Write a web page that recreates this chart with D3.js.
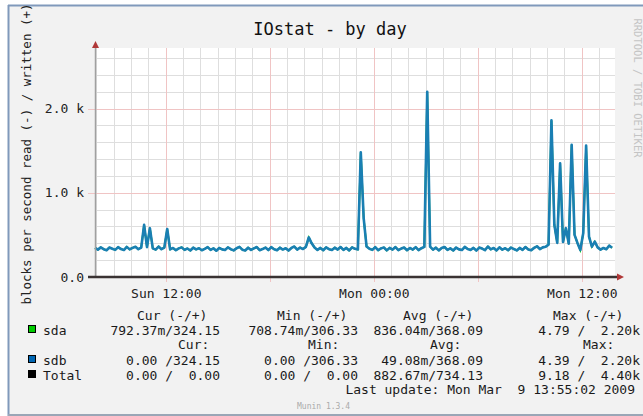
<!DOCTYPE html>
<html>
<head>
<meta charset="utf-8">
<script src="https://cdn.jsdelivr.net/npm/d3@7"></script>
<style>
  body { margin: 0; background: #fff; }
  text { font-family: "DejaVu Sans Mono", monospace; white-space: pre; }
</style>
</head>
<body>
<div id="chart"></div>
<script>
const sdbWrite = [
  345, 325, 352, 330, 318, 350, 336, 322, 355, 332, 320, 358,
  328, 346, 360, 330, 350, 620, 355, 580, 340, 325, 362, 330,
  350, 570, 328, 345, 318, 340, 352, 322, 338, 315, 348, 328,
  342, 318, 335, 355, 322, 340, 312, 345, 328, 320, 352, 330,
  316, 342, 358, 325, 315, 348, 322, 340, 356, 318, 332, 350,
  320, 355, 330, 318, 348, 326, 342, 314, 345, 362, 325, 350,
  332, 358, 470, 400, 350, 322, 345, 318, 352, 330, 320, 348,
  326, 356, 322, 345, 316, 352, 335, 328, 1480, 700, 362, 335,
  322, 355, 318, 340, 350, 316, 346, 325, 356, 320, 338, 350,
  318, 345, 326, 354, 320, 342, 358, 2200, 360, 325, 348, 316,
  345, 356, 322, 340, 315, 350, 328, 320, 358, 332, 322, 346,
  314, 350, 338, 320, 362, 328, 345, 316, 352, 324, 342, 318,
  350, 332, 316, 345, 322, 356, 328, 318, 346, 365, 332, 352,
  360, 385, 1860, 620, 405, 1350, 415, 580, 395, 1570, 500, 405,
  320, 520, 1560, 480, 360, 420, 352, 325, 345, 330, 372, 348
];
// sda writes are the same as sdb (legend shows identical write figures), drawn underneath
const sdaWrite = sdbWrite.slice();

const xTickTimes = [new Date(2009, 2, 8, 12, 0), new Date(2009, 2, 9, 0, 0), new Date(2009, 2, 9, 12, 0)];
const xTickLabels = ['Sun 12:00', 'Mon 00:00', 'Mon 12:00'];
const yTickValues = [0, 1000, 2000];
const yTickLabels = ['0.0', '1.0 k', '2.0 k'];

const legendHead1 = ['Cur (-/+)', 'Min (-/+)', 'Avg (-/+)', 'Max (-/+)'];
const legendHead2 = ['Cur:', 'Min:', 'Avg:', 'Max:'];
const sdaLegend = ['792.37m/324.15', '708.74m/306.33', '836.04m/368.09', '4.79 /  2.20k'];
const sdbLegend = ['0.00 /324.15', '0.00 /306.33', '49.08m/368.09', '4.39 /  2.20k'];
const totalLegend = ['0.00 /  0.00', '0.00 /  0.00', '882.67m/734.13', '9.18 /  4.40k'];

const W = 643, H = 416;
const svg = d3.select('#chart').append('svg').attr('width', W).attr('height', H);

// frame + background
svg.append('rect').attr('x', 9).attr('y', 6).attr('width', W - 9).attr('height', H - 8).attr('fill', '#f2f2f2');
svg.append('line').attr('x1', 8).attr('x2', W).attr('y1', 5.5).attr('y2', 5.5).attr('stroke', '#8099bb').attr('stroke-width', 2);
svg.append('line').attr('x1', 8.5).attr('x2', 8.5).attr('y1', 5).attr('y2', H).attr('stroke', '#8099bb').attr('stroke-width', 2);
svg.append('line').attr('x1', 8).attr('x2', W).attr('y1', 415).attr('y2', 415).attr('stroke', '#9aa6b6').attr('stroke-width', 2);

const xStart = new Date(2009, 2, 8, 7, 55), xEnd = new Date(2009, 2, 9, 13, 55);
const x = d3.scaleTime().domain([xStart, xEnd]).range([95, 615]);
const y = d3.scaleLinear().domain([0, 2720]).range([277, 48]);

svg.append('rect').attr('x', 95).attr('y', 48).attr('width', 520).attr('height', 229).attr('fill', '#fff');

// grid
const grid = svg.append('g');
const hours = d3.timeHour.range(xStart, xEnd);
grid.selectAll('.vminor').data(hours.filter(h => h.getHours() % 6 !== 0)).enter().append('line')
  .attr('x1', d => Math.round(x(d)) + 0.5).attr('x2', d => Math.round(x(d)) + 0.5)
  .attr('y1', 48).attr('y2', 277).attr('stroke', '#dedede');
grid.selectAll('.hminor').data(d3.range(200, 2720, 200).filter(v => v % 1000 !== 0)).enter().append('line')
  .attr('x1', 95).attr('x2', 615)
  .attr('y1', d => Math.round(y(d)) + 0.5).attr('y2', d => Math.round(y(d)) + 0.5).attr('stroke', '#dedede');
grid.selectAll('.vmajor').data(hours.filter(h => h.getHours() % 6 === 0)).enter().append('line')
  .attr('x1', d => Math.round(x(d)) + 0.5).attr('x2', d => Math.round(x(d)) + 0.5)
  .attr('y1', 48).attr('y2', 282).attr('stroke', '#f0c4c4');
grid.selectAll('.hmajor').data([1000, 2000]).enter().append('line')
  .attr('x1', 88).attr('x2', 615)
  .attr('y1', d => Math.round(y(d)) + 0.5).attr('y2', d => Math.round(y(d)) + 0.5).attr('stroke', '#f0c4c4');

// series
const times = sdbWrite.map((d, i) => d3.timeMinute.offset(xStart, i * 10));
const line = d3.line().x((d, i) => x(times[i])).y(d => y(d));
svg.append('path').datum(sdaWrite).attr('d', line).attr('fill', 'none')
  .attr('stroke', '#00cc00').attr('stroke-width', 1.8);
svg.append('path').datum(sdbWrite).attr('d', line).attr('fill', 'none')
  .attr('stroke', '#1a7fb3').attr('stroke-width', 2.6).attr('stroke-linejoin', 'round');

// axes lines + arrows
svg.append('line').attr('x1', 95.5).attr('x2', 95.5).attr('y1', 277).attr('y2', 46).attr('stroke', '#a0a0a0').attr('stroke-width', 1.5);
svg.append('path').attr('d', 'M92,48 L95.5,41 L99,48 Z').attr('fill', '#b03838');
svg.append('line').attr('x1', 88).attr('x2', 618).attr('y1', y(0)).attr('y2', y(0)).attr('stroke', '#3a3333').attr('stroke-width', 2.5);
svg.append('path').attr('d', 'M617,273.5 L624,277 L617,280.5 Z').attr('fill', '#b03838');

// tick labels through d3 axes
const xAxis = svg.append('g').attr('transform', 'translate(0,286)')
  .call(d3.axisBottom(x).tickValues(xTickTimes).tickSize(0).tickFormat((d, i) => xTickLabels[i]));
xAxis.select('.domain').remove();
xAxis.selectAll('text').attr('font-size', 13).attr('fill', '#222').attr('dy', '0.71em')
  .style('font-family', '"DejaVu Sans Mono", monospace');

const yAxis = svg.append('g').attr('transform', 'translate(84,0)')
  .call(d3.axisLeft(y).tickValues(yTickValues).tickSize(0).tickPadding(0).tickFormat((d, i) => yTickLabels[i]));
yAxis.select('.domain').remove();
yAxis.selectAll('text').attr('font-size', 13).attr('fill', '#222')
  .style('font-family', '"DejaVu Sans Mono", monospace');

// title and axis label
svg.append('text').attr('x', 330).attr('y', 35).attr('text-anchor', 'middle')
  .attr('font-size', 17).attr('fill', '#111').text('IOstat - by day');
svg.append('text').attr('transform', 'translate(31,154) rotate(-90)').attr('text-anchor', 'middle')
  .attr('font-size', 12.5).attr('fill', '#222').text('blocks per second read (-) / written (+)');
svg.append('text').attr('transform', 'translate(634,88) rotate(90)').attr('text-anchor', 'middle')
  .attr('font-size', 10.5).attr('fill', '#c4c4c4').text('RRDTOOL / TOBI OETIKER');

// legend
const lg = svg.append('g').attr('font-size', 13).attr('fill', '#1a1a1a');
const headX = [137, 277, 403, 553];
const head2X = [178, 308, 430, 583];
const valRight = [220, 358, 483, 640];
lg.selectAll('.h1').data(legendHead1).enter().append('text')
  .attr('x', (d, i) => headX[i]).attr('y', 320).text(d => d);
lg.selectAll('.h2').data(legendHead2).enter().append('text')
  .attr('x', (d, i) => head2X[i]).attr('y', 349).text(d => d);

const rows = [
  { name: 'sda', color: '#00cc00', vals: sdaLegend, y: 335 },
  { name: 'sdb', color: '#0066b3', vals: sdbLegend, y: 365 },
  { name: 'Total', color: '#000000', vals: totalLegend, y: 380 }
];
rows.forEach(r => {
  lg.append('rect').attr('x', 28.5).attr('y', r.y - 9.5).attr('width', 7).attr('height', 7)
    .attr('fill', r.color).attr('stroke', '#000');
  lg.append('text').attr('x', 43).attr('y', r.y).text(r.name);
  r.vals.forEach((v, i) => {
    lg.append('text').attr('x', valRight[i]).attr('y', r.y).attr('text-anchor', 'end').text(v);
  });
});
lg.append('text').attr('x', 635).attr('y', 394).attr('text-anchor', 'end').text('Last update: Mon Mar  9 13:55:02 2009');
svg.append('text').attr('x', 297).attr('y', 409).attr('font-size', 8).attr('fill', '#aaa').text('Munin 1.3.4');
</script>
</body>
</html>
